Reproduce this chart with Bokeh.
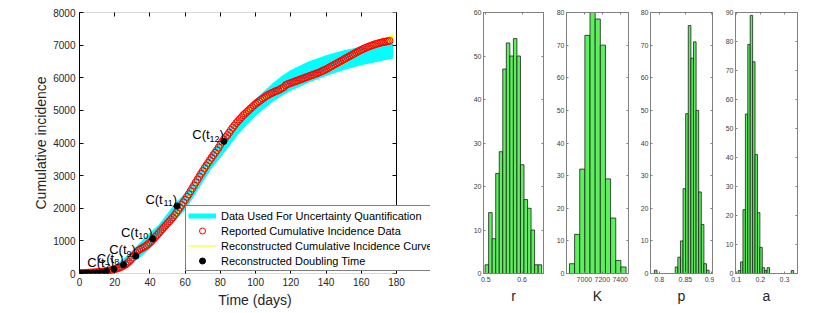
import numpy as np
from bokeh.plotting import figure
from bokeh.models import (ColumnDataSource, Range1d, LinearAxis, FixedTicker,
                          Legend, LegendItem, BoxAnnotation, CustomJSTickFormatter)
from bokeh.layouts import row
from bokeh.embed import file_html
from bokeh.resources import INLINE
from bokeh.core.properties import value

FONT = "Liberation Sans"

# ---------------- main panel data ----------------
cases = [
    12, 14, 16, 18, 21, 24, 27, 30, 34, 38,
    42, 46, 51, 57, 64, 72, 81, 91, 102, 115,
    130, 146, 165, 186, 210, 238, 270, 310, 360, 420,
    490, 560, 630, 690, 730, 760, 790, 820, 860, 900,
    950, 1000, 1060, 1120, 1180, 1240, 1300, 1360, 1420, 1480,
    1540, 1600, 1660, 1720, 1790, 1860, 1940, 2020, 2100, 2180,
    2260, 2350, 2430, 2520, 2610, 2700, 2790, 2880, 2970, 3060,
    3140, 3230, 3310, 3390, 3470, 3550, 3630, 3700, 3780, 3860,
    3950, 4040, 4110, 4180, 4240, 4320, 4400, 4470, 4540, 4610,
    4670, 4730, 4790, 4850, 4900, 4950, 5000, 5050, 5100, 5150,
    5200, 5240, 5280, 5320, 5360, 5400, 5440, 5470, 5500, 5530,
    5550, 5580, 5600, 5620, 5650, 5680, 5710, 5770, 5800, 5820,
    5840, 5860, 5880, 5900, 5920, 5940, 5960, 5980, 6000, 6020,
    6040, 6060, 6080, 6100, 6120, 6140, 6160, 6185, 6210, 6235,
    6260, 6290, 6320, 6350, 6380, 6410, 6440, 6470, 6500, 6530,
    6560, 6590, 6620, 6650, 6680, 6710, 6740, 6770, 6800, 6830,
    6855, 6880, 6905, 6930, 6950, 6970, 6990, 7010, 7030, 7045,
    7060, 7075, 7090, 7100, 7110, 7120, 7130,
]
days = list(range(0, len(cases)))

band_days = [0, 10, 15, 20, 25, 30, 35, 40, 45, 50, 55, 60, 65, 70, 75, 80, 85,
             90, 95, 100, 105, 110, 115, 120, 130, 140, 150, 160, 170, 178]
band_lower = [0, 15, 40, 70, 150, 300, 520, 760, 1050, 1380, 1680, 1950, 2370,
              2800, 3220, 3550, 3900, 4250, 4560, 4830, 5060, 5270, 5450, 5600,
              5850, 6050, 6240, 6380, 6500, 6590]
band_upper = [40, 70, 130, 260, 450, 700, 980, 1250, 1500, 1850, 2200, 2450,
              2880, 3320, 3740, 4050, 4420, 4760, 5050, 5350, 5600, 5850, 6060,
              6240, 6500, 6690, 6840, 6950, 7030, 7090]

fit_days = [0, 10, 20, 25, 30, 35, 40, 45, 50, 55, 60, 65, 70, 75, 80, 85, 90,
            95, 100, 105, 110, 115, 120, 130, 140, 145, 150, 160, 170, 178]
fit_lower = [8, 33, 108, 205, 410, 715, 890, 1170, 1470, 1780, 2170, 2600, 3050,
             3460, 3850, 4230, 4600, 4890, 5140, 5360, 5510, 5630, 5790, 5950,
             6140, 6270, 6410, 6760, 7005, 7100]
fit_upper = [22, 43, 124, 222, 430, 735, 910, 1190, 1490, 1800, 2190, 2620, 3070,
             3480, 3870, 4260, 4690, 5040, 5240, 5410, 5545, 5660, 5820, 6000,
             6220, 6360, 6520, 6835, 7100, 7330]

dt_days = [1, 3, 5, 7.5, 10, 12.5, 15.3, 19.6, 25, 32, 41.5, 55.4, 82]
dt_cases = [1, 2, 4, 8, 16, 33, 66, 135, 270, 535, 1065, 2070, 4050]
labelled_k = [7, 8, 9, 10, 11, 12]

main_xticks = [0, 20, 40, 60, 80, 100, 120, 140, 160, 180]
main_yticks = [0, 1000, 2000, 3000, 4000, 5000, 6000, 7000, 8000]
X_MAX, Y_MAX = 180, 8000

# ---------------- histogram data ----------------
r_counts = [2, 14, 8, 23, 28, 47, 53, 50, 54, 50, 25, 17, 15, 10, 2, 2]
r_start, r_width = 0.498, 0.00975
K_counts = [3, 12, 32, 73, 80, 78, 70, 29, 17, 4, 2]
K_start, K_width = 6833, 57.5
p_counts = [1, 0, 0, 0, 0, 0, 0, 0, 2, 5, 10, 26, 49, 76, 66, 71, 50, 25, 15, 3, 1]
p_start, p_width = 0.7905, 0.005
a_counts = [1, 4, 22, 55, 79, 89, 73, 41, 21, 9, 2, 1, 2, 0, 0, 0, 0, 0, 0, 0, 0, 0, 1]
a_start, a_width = 0.108, 0.01

r_xticks, r_yticks = [0.5, 0.6], [0, 10, 20, 30, 40, 50, 60]
K_xticks, K_yticks = [7000, 7200, 7400], [0, 10, 20, 30, 40, 50, 60, 70, 80]
p_xticks, p_yticks = [0.8, 0.85, 0.9], [0, 10, 20, 30, 40, 50, 60, 70, 80]
a_xticks, a_yticks = [0.1, 0.2, 0.3], [0, 10, 20, 30, 40, 50, 60, 70, 80, 90]

EMPTY = CustomJSTickFormatter(code="return ''")


# ---------------- helpers ----------------
def style_axis(ax, ticks, tick_font, tick_color, frame_color, lab_font, lab_color,
               tick_len, stand, lab_stand):
    ax.ticker = FixedTicker(ticks=ticks)
    ax.major_tick_in = tick_len
    ax.major_tick_out = 0
    ax.minor_tick_line_color = None
    ax.major_tick_line_color = frame_color
    ax.axis_line_color = frame_color
    ax.major_label_text_font = FONT
    ax.major_label_text_font_size = tick_font
    ax.major_label_text_color = tick_color
    ax.major_label_standoff = stand
    ax.axis_label_text_font = FONT
    ax.axis_label_text_font_size = lab_font
    ax.axis_label_text_color = lab_color
    ax.axis_label_text_font_style = "normal"
    ax.axis_label_standoff = lab_stand


def mirror_axis(p, loc, ticks, frame_color, tick_len, **kw):
    ax = LinearAxis(ticker=FixedTicker(ticks=ticks), major_tick_in=tick_len,
                    major_tick_out=0, minor_tick_line_color=None,
                    major_tick_line_color=frame_color, axis_line_color=frame_color,
                    formatter=EMPTY, major_label_standoff=0,
                    major_label_text_font_size="7px", **kw)
    p.add_layout(ax, loc)
    return ax


# ---------------- main panel ----------------
MAIN_W, FRAME_L, FRAME_W = 430, 79, 351
x_end = X_MAX * FRAME_W / 317.0
p = figure(width=MAIN_W, height=313, x_range=Range1d(0, x_end),
           y_range=Range1d(0, Y_MAX), output_backend="svg", toolbar_location=None,
           min_border_left=FRAME_L, min_border_right=0, min_border_top=12,
           min_border_bottom=40)
p.grid.visible = False
p.outline_line_color = None
xa, ya = p.xaxis[0], p.yaxis[0]
style_axis(xa, main_xticks, "10px", "#262626", "black", "14px", "#262626", 4, 4, 3)
style_axis(ya, main_yticks, "10px", "#262626", "black", "14px", "#262626", 4, 4, 1)
xa.axis_line_color = None
xa.axis_label = "Time (days)"
ya.axis_label = "Cumulative incidence"
top_ax = mirror_axis(p, "above", main_xticks, "black", 4)
top_ax.axis_line_color = None
mirror_axis(p, "right", main_yticks, "black", 4, fixed_location=X_MAX)
p.add_layout(BoxAnnotation(left=0, right=X_MAX, bottom=0, top=Y_MAX,
                           fill_color=None, line_color="black", line_width=1))

band_mid = [(lo + hi) / 2 for lo, hi in zip(band_lower, band_upper)]
fit_mid = [(lo + hi) / 2 for lo, hi in zip(fit_lower, fit_upper)]

p.varea(x=band_days, y1=band_lower, y2=band_upper, fill_color="#00FFFF")
cy_line = p.line(x=band_days, y=band_mid, line_color="#00FFFF", line_width=5)
p.varea(x=fit_days, y1=fit_lower, y2=fit_upper, fill_color="#FFFF00")
ye_line = p.line(x=fit_days, y=fit_mid, line_color="#FFFF00", line_width=1)
r_red = p.scatter(x=days, y=cases, marker="circle", size=7, fill_color=None,
                  line_color="#FF0000", line_width=1)
r_blk = p.scatter(x=dt_days, y=dt_cases, marker="circle", size=6,
                  fill_color="black", line_color="black")

lab_x = [dt_days[k] for k in labelled_k]
lab_y = [dt_cases[k] for k in labelled_k]
lab_sub = [str(k) for k in labelled_k]
paren_w = 0.333 * 13
sub_w = [0.556 * 9 * len(s) for s in lab_sub]
lsrc = ColumnDataSource(dict(x=lab_x, y=lab_y, sub=lab_sub,
                             xo_sub=[-paren_w] * len(lab_x),
                             xo_c=[-(paren_w + w) for w in sub_w]))
p.text(x="x", y="y", text=value(")"), source=lsrc, text_align="right",
       text_baseline="alphabetic", y_offset=-6.5, text_font=value(FONT),
       text_font_size="13px", text_color="black")
p.text(x="x", y="y", text="sub", source=lsrc, x_offset="xo_sub",
       text_align="right", text_baseline="alphabetic", y_offset=-2.5,
       text_font=value(FONT), text_font_size="9px", text_color="black")
p.text(x="x", y="y", text=value("C(t"), source=lsrc, x_offset="xo_c",
       text_align="right", text_baseline="alphabetic", y_offset=-6.5,
       text_font=value(FONT), text_font_size="13px", text_color="black")

legend = Legend(items=[
    LegendItem(label="Data Used For Uncertainty Quantification", renderers=[cy_line]),
    LegendItem(label="Reported Cumulative Incidence Data", renderers=[r_red]),
    LegendItem(label="Reconstructed Cumulative Incidence Curves", renderers=[ye_line]),
    LegendItem(label="Reconstructed Doubling Time", renderers=[r_blk]),
], location=(106, 2))
legend.label_text_font = FONT
legend.label_text_font_size = "11px"
legend.label_text_color = "black"
legend.label_height = 15
legend.glyph_height = 15
legend.glyph_width = 28
legend.label_standoff = 5
legend.spacing = 0
legend.padding = 2
legend.margin = 0
legend.border_line_color = "black"
legend.border_line_width = 1
legend.background_fill_alpha = 1
p.add_layout(legend)

# ---------------- histograms ----------------
GREEN = "#5CF05C"
EDGE = "#1E1E1E"
GRAY = "#808080"


def hist_fig(counts, start, width, xr, yr, xticks, yticks, xlabel, border_left,
             frame_w, overrides=None):
    c = np.array(counts, dtype=float)
    left = start + width * np.arange(len(c))
    keep = c > 0
    src = ColumnDataSource(dict(left=left[keep], right=left[keep] + width,
                                top=c[keep]))
    f = figure(width=border_left + frame_w + 2, height=313, x_range=Range1d(*xr),
               y_range=Range1d(*yr), output_backend="svg", toolbar_location=None,
               min_border_left=border_left, min_border_right=2, min_border_top=12,
               min_border_bottom=40)
    f.grid.visible = False
    f.outline_line_color = GRAY
    fx, fy = f.xaxis[0], f.yaxis[0]
    style_axis(fx, xticks, "7px", "#404040", GRAY, "14px", "#262626", 2, 3, 3)
    style_axis(fy, yticks, "7px", "#404040", GRAY, "14px", "#262626", 2, 2, 3)
    fx.axis_label = xlabel
    if overrides:
        fx.major_label_overrides = overrides
    mirror_axis(f, "above", xticks, GRAY, 2)
    mirror_axis(f, "right", yticks, GRAY, 2)
    f.quad(left="left", right="right", bottom=0, top="top", source=src,
           fill_color=GREEN, line_color=EDGE, line_width=0.8)
    return f


f_r = hist_fig(r_counts, r_start, r_width, (0.4936, 0.659), (0, 60), r_xticks,
               r_yticks, "r", 53, 60)
f_K = hist_fig(K_counts, K_start, K_width, (6800, 7493), (0, 80), K_xticks,
               K_yticks, "K", 21, 62)
f_p = hist_fig(p_counts, p_start, p_width, (0.783, 0.902), (0, 80), p_xticks,
               p_yticks, "p", 20, 62, {0.8: "0.8", 0.85: "0.85", 0.9: "0.9"})
f_a = hist_fig(a_counts, a_start, a_width, (0.097, 0.354), (0, 90), a_xticks,
               a_yticks, "a", 21, 62)

layout = row(p, f_r, f_K, f_p, f_a, spacing=0)
open("out.html", "w").write(file_html(layout, INLINE))
